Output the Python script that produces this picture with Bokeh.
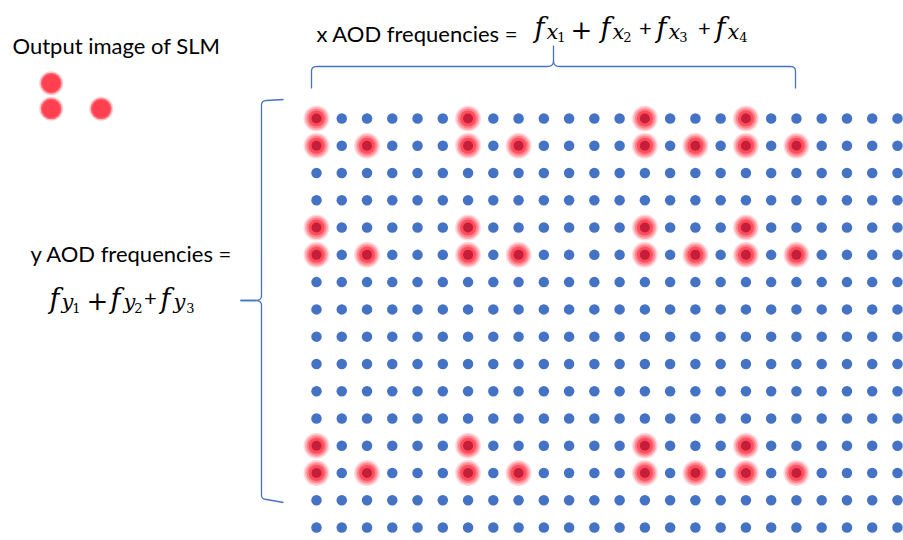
import numpy as np
from bokeh.plotting import figure
from bokeh.models import Range1d
from bokeh.core.properties import value
from bokeh.embed import file_html
from bokeh.resources import INLINE

# ---------------- data ----------------
n_cols = 24                      # AOD grid columns
n_rows = 16                      # AOD grid rows
x_freq_cols = [0, 6, 13, 17]     # columns addressed by the x AOD tones
y_freq_rows = [0, 4, 12]         # rows addressed by the y AOD tones
slm_dx = [0, 0, 2]               # SLM output pattern, column offsets
slm_dy = [0, 1, 1]               # SLM output pattern, row offsets

slm_title = "Output image of SLM"
x_label = "x AOD frequencies ="
y_label = "y AOD frequencies ="
x_subs = ["1", "2", "3", "4"]
y_subs = ["1", "2", "3"]

# ---------------- layout ----------------
W, H = 903, 540
M = 0
OX, OY = 316.0, 118.0     # screen position of grid cell (0, 0)
PX, PY = 25.26, 27.27     # grid pitch (screen px)


def gx(sx):
    return (sx - OX) / PX


def gy(sy):
    return (sy - OY) / PY


p = figure(width=W, height=H, output_backend="svg", toolbar_location=None,
           x_range=Range1d(gx(M), gx(M + W)), y_range=Range1d(gy(M + H), gy(M)),
           x_axis_location=None, y_axis_location=None, min_border=0,
           outline_line_color=None, background_fill_color="white",
           border_fill_color="white")
p.grid.visible = False

BLUE = "#4472C4"
FONT = "Lato"
MATH = "DejaVu Serif"

# ---------------- grid of AOD spots ----------------
cc, rr = np.meshgrid(np.arange(n_cols), np.arange(n_rows))
p.scatter(cc.ravel(), rr.ravel(), size=10.5, fill_color=BLUE, line_color=None)

hx, hy = [], []
for fx in x_freq_cols:
    for fy in y_freq_rows:
        for dx, dy in zip(slm_dx, slm_dy):
            hx.append(fx + dx)
            hy.append(fy + dy)

for size, color, alpha in [(26, "#FFC4C8", 0.6), (23, "#FFA0A8", 0.75), (20, "#FF7480", 0.75),
                           (16, "#FF4454", 0.85), (10, "#C41E3A", 1.0)]:
    p.scatter(hx, hy, size=size, fill_color=color, fill_alpha=alpha, line_color=None)

# ---------------- SLM output image ----------------
sx = [gx(50.7 + d * 25.0) for d in slm_dx]
sy = [gy(82.7 + d * 25.6) for d in slm_dy]
for size, color, alpha in [(24, "#FFA8AE", 0.6), (21, "#FF5A66", 0.9), (18, "#FF4050", 1.0)]:
    p.scatter(sx, sy, size=size, fill_color=color, fill_alpha=alpha, line_color=None)

# ---------------- braces ----------------


def quad(p0, c, p1, n=10):
    t = np.linspace(0, 1, n)
    x = (1 - t) ** 2 * p0[0] + 2 * (1 - t) * t * c[0] + t ** 2 * p1[0]
    y = (1 - t) ** 2 * p0[1] + 2 * (1 - t) * t * c[1] + t ** 2 * p1[1]
    return list(x), list(y)


def path(*segs):
    xs, ys = [], []
    for s in segs:
        xs += s[0]
        ys += s[1]
    return [gx(v) for v in xs], [gy(v) for v in ys]


def line(a, b):
    return [a[0], b[0]], [a[1], b[1]]


# top brace
tl = path(line((311, 88), (311, 71)), quad((311, 71), (311, 66), (316, 66)),
          line((316, 66), (547, 66)), quad((547, 66), (553, 66), (553, 60)),
          line((553, 60), (553, 45)))
tr = path(quad((553, 60), (553, 66), (559, 66)), line((559, 66), (790, 66)),
          quad((790, 66), (795, 66), (795, 71)), line((795, 71), (795, 88)))
# left brace
lt = path(line((283, 99), (266, 100)), quad((266, 100), (261, 100), (261, 105)),
          line((261, 105), (261, 295)), quad((261, 295), (261, 300), (255, 300)),
          line((255, 300), (240, 300)))
lb = path(line((240, 300), (255, 300)), quad((255, 300), (261, 300), (261, 305)),
          line((261, 305), (261, 494)), quad((261, 494), (261, 499), (266, 499)),
          line((266, 499), (283, 502)))
p.multi_line([tl[0], tr[0], lt[0], lb[0]], [tl[1], tr[1], lt[1], lb[1]],
             line_color=BLUE, line_width=1.3)

# ---------------- labels ----------------
p.text(x=[gx(12), gx(316), gx(30)], y=[gy(45), gy(33), gy(253)],
       text=[slm_title, x_label, y_label], text_font=value(FONT),
       text_font_size="22px", text_align="left", text_baseline="alphabetic",
       text_color="black")


def formula(letter, subs, f_cx, s_cx, d_cx, plus_cx, big_plus, fb, sb, db, pb_big, pb_small):
    n = len(subs)
    p.text(x=[gx(v) for v in f_cx], y=[gy(fb)] * n, text=["f"] * n, text_font=value(MATH),
           text_font_style="italic", text_font_size="27px", text_align="center",
           text_baseline="alphabetic", text_color="black")
    p.text(x=[gx(v) for v in s_cx], y=[gy(sb)] * n, text=[letter] * n, text_font=value(MATH),
           text_font_style="italic", text_font_size="21px", text_align="center",
           text_baseline="alphabetic", text_color="black")
    p.text(x=[gx(v) for v in d_cx], y=[gy(db)] * n, text=subs, text_font=value(MATH),
           text_font_size="13px", text_align="center",
           text_baseline="alphabetic", text_color="black")
    for j, cx in enumerate(plus_cx):
        if j in big_plus:
            p.text(x=[gx(cx)], y=[gy(pb_big)], text=["+"], text_font=value("DejaVu Serif"),
                   text_font_size="26px", text_align="center",
                   text_baseline="alphabetic", text_color="black")
        else:
            p.text(x=[gx(cx)], y=[gy(pb_small)], text=["+"], text_font=value(FONT),
                   text_font_size="22px", text_align="center",
                   text_baseline="alphabetic", text_color="black")


formula("x", x_subs, [539, 605, 661, 720], [552, 618, 674, 733], [561, 627, 683, 743],
        [581, 645, 704], {0}, 27, 31, 36, 29, 28)
formula("y", y_subs, [54, 115, 165], [67, 129, 179], [76, 138, 190],
        [97, 150], {0}, 298, 301, 307, 300, 298)

open("out.html", "w").write(file_html(p, INLINE))
